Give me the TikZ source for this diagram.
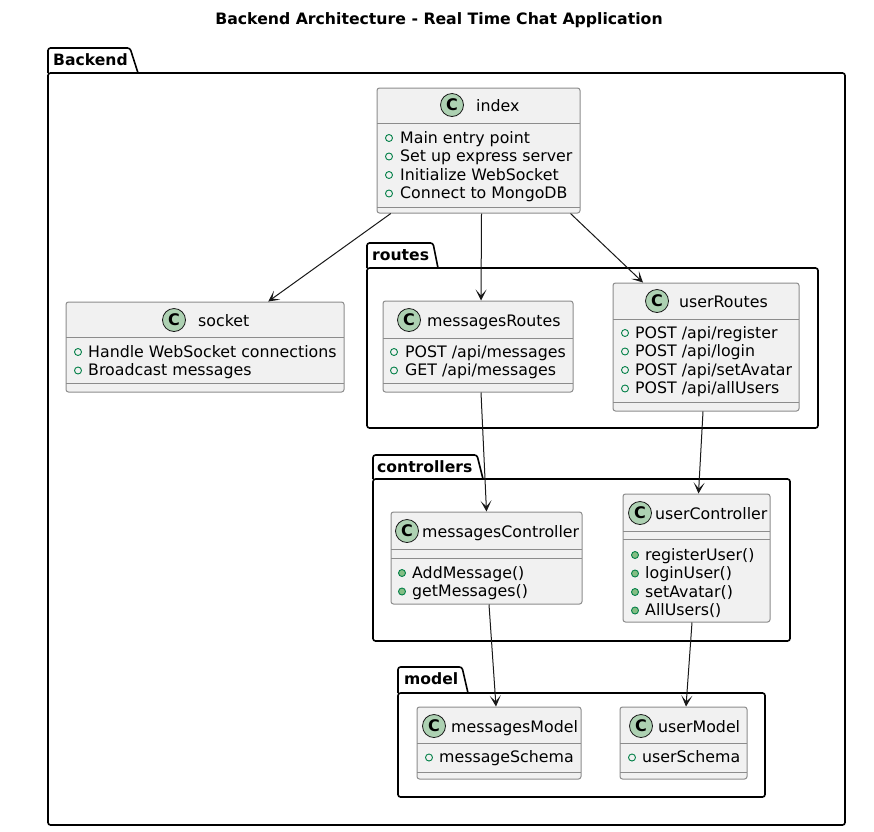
\documentclass[tikz,border=0pt]{standalone}
\usepackage{fontspec}
\setmainfont{DejaVu Sans}
\usetikzlibrary{arrows.meta,fit}

\definecolor{fondoClase}{HTML}{F1F1F1}
\definecolor{bordeClase}{HTML}{8C8C8C}
\definecolor{verdeC}{HTML}{ADD1B2}
\definecolor{verdeVis}{HTML}{038048}
\definecolor{verdeMet}{HTML}{84BE84}
\definecolor{flecha}{HTML}{181818}

\tikzset{
  clase/.style={draw=bordeClase, fill=fondoClase, line width=1pt, rounded corners=2.5pt, inner sep=0pt},
  separador/.style={draw=bordeClase, line width=1pt},
  paquete/.style={draw=black, line width=1.6pt, rounded corners=2.5pt},
  circuloC/.style={circle, draw=flecha, fill=verdeC, line width=0.8pt, minimum size=23pt, inner sep=0pt, font=\fontsize{16}{16}\selectfont\bfseries},
  nombre/.style={anchor=base west, inner sep=0pt, font=\fontsize{15.8}{18}\selectfont},
  texto/.style={anchor=base west, inner sep=0pt, font=\fontsize{15.8}{18}\selectfont},
  atributo/.style={circle, draw=verdeVis, line width=0.9pt, minimum size=7pt, inner sep=0pt},
  metodo/.style={atributo, fill=verdeMet},
  etiqueta/.style={anchor=base west, inner sep=0pt, font=\fontsize{15.6}{18}\selectfont\bfseries},
  titulo/.style={inner sep=0pt, font=\fontsize{15.7}{18}\selectfont\bfseries},
  dep/.style={draw=flecha, line width=1pt, -{Stealth[length=11pt, width=11pt, inset=6pt]}},
}

\begin{document}
\begin{tikzpicture}[x=1pt, y=-1pt]
	\useasboundingbox (0,0) rectangle (874,831);
	\fill[white] (0,0) rectangle (874,831);
	
	% Titulo
	\node[titulo] (titulo) at (439,20) {Backend Architecture - Real Time Chat Application};
	
	% Paquete Backend
	\draw[paquete] (48,73) -- (48,48) -- (130,48) -- (138,73);
	\draw[paquete] (48,73) rectangle (845,825);
	\node[etiqueta] (lblBackend) at (53,65) {Backend};
	
	% Paquetes routes, controllers y model
	\draw[paquete] (367,268) -- (367,243) -- (433,243) -- (438,268);
	\draw[paquete] (367,268) rectangle (818,428);
	\node[etiqueta] (lblRoutes) at (372,260) {routes};
	\draw[paquete] (373,479) -- (373,455) -- (477,455) -- (483,479);
	\draw[paquete] (373,479) rectangle (790,641);
	\node[etiqueta] (lblControllers) at (377,472) {controllers};
	\draw[paquete] (398,693) -- (398,667) -- (462,667) -- (468,693);
	\draw[paquete] (398,693) rectangle (765,797);
	\node[etiqueta] (lblModel) at (404,684) {model};
	
	% Clase index
	\node[clase, fit={(377,88) (580,213)}] (index) {};
	\draw[separador] (377,123) -- (580,123) (377,207) -- (580,207);
	\node[circuloC] (cIndex) at (452,105) {C};
	\node[nombre] (nIndex) at (476,111.5) {index};
	\foreach \linea [count=\i] in {Main entry point, Set up express server, Initialize WebSocket, Connect to MongoDB}{
		\node[atributo] (index-m\i) at (389,119.5+18.5*\i) {};
		\node[texto] (index-a\i) at (400,124.5+18.5*\i) {\linea};
	}
	
	% Clase socket
	\node[clase, fit={(66,302) (344,392)}] (socket) {};
	\draw[separador] (66,337) -- (344,337) (66,383) -- (344,383);
	\node[circuloC] (cSocket) at (174,320) {C};
	\node[nombre] (nSocket) at (198,326.5) {socket};
	\foreach \linea [count=\i] in {Handle WebSocket connections, Broadcast messages}{
		\node[atributo] (socket-m\i) at (78,333.5+18.5*\i) {};
		\node[texto] (socket-a\i) at (88,338.5+18.5*\i) {\linea};
	}
	
	% Clase messagesRoutes
	\node[clase, fit={(383,301) (573,392)}] (messagesRoutes) {};
	\draw[separador] (383,338) -- (573,338) (383,383) -- (573,383);
	\node[circuloC] (cMessagesRoutes) at (409,320) {C};
	\node[nombre] (nMessagesRoutes) at (427,326.5) {messagesRoutes};
	\foreach \linea [count=\i] in {POST /api/messages, GET /api/messages}{
		\node[atributo] (messagesRoutes-m\i) at (394,333.5+18.5*\i) {};
		\node[texto] (messagesRoutes-a\i) at (405,338.5+18.5*\i) {\linea};
	}
	
	% Clase userRoutes
	\node[clase, fit={(613,283) (799,411)}] (userRoutes) {};
	\draw[separador] (613,319) -- (799,319) (613,402) -- (799,402);
	\node[circuloC] (cUserRoutes) at (657,301) {C};
	\node[nombre] (nUserRoutes) at (679,307.5) {userRoutes};
	\foreach \linea [count=\i] in {POST /api/register, POST /api/login, POST /api/setAvatar, POST /api/allUsers}{
		\node[atributo] (userRoutes-m\i) at (625,314.5+18.5*\i) {};
		\node[texto] (userRoutes-a\i) at (635,319.5+18.5*\i) {\linea};
	}
	
	% Clase messagesController
	\node[clase, fit={(391,512) (582,604)}] (messagesController) {};
	\draw[separador] (391,549) -- (582,549) (391,558) -- (582,558);
	\node[circuloC] (cMessagesController) at (407,531) {C};
	\node[nombre] (nMessagesController) at (422,537.5) {messagesController};
	\foreach \linea [count=\i] in {AddMessage(), getMessages()}{
		\node[metodo] (messagesController-m\i) at (402,554.5+18.5*\i) {};
		\node[texto] (messagesController-a\i) at (412,559.5+18.5*\i) {\linea};
	}
	
	% Clase userController
	\node[clase, fit={(623,494) (770,622)}] (userController) {};
	\draw[separador] (623,531) -- (770,531) (623,539) -- (770,539);
	\node[circuloC] (cUserController) at (640,513) {C};
	\node[nombre] (nUserController) at (655,519.5) {userController};
	\foreach \linea [count=\i] in {registerUser(), loginUser(), setAvatar(), AllUsers()}{
		\node[metodo] (userController-m\i) at (635,536.5+18.5*\i) {};
		\node[texto] (userController-a\i) at (645,541.5+18.5*\i) {\linea};
	}
	
	% Clases del modelo
	\node[clase, fit={(417,707) (581,779)}] (messagesModel) {};
	\draw[separador] (417,743) -- (581,743) (417,772) -- (581,772);
	\node[circuloC] (cMessagesModel) at (434,726) {C};
	\node[nombre] (nMessagesModel) at (451,732.5) {messagesModel};
	\node[atributo] (messagesModel-m1) at (429,757.5) {};
	\node[texto] (messagesModel-a1) at (439,762.5) {messageSchema};
	
	\node[clase, fit={(620,707) (747,779)}] (userModel) {};
	\draw[separador] (620,743) -- (747,743) (620,772) -- (747,772);
	\node[circuloC] (cUserModel) at (641,726) {C};
	\node[nombre] (nUserModel) at (658,732.5) {userModel};
	\node[atributo] (userModel-m1) at (632,757.5) {};
	\node[texto] (userModel-a1) at (642,762.5) {userSchema};
	
	% Dependencias
	\draw[dep] (index) -- (socket);
	\draw[dep] ([xshift=3pt]index.south) -- ([xshift=3pt]messagesRoutes.north);
	\draw[dep] ([xshift=92pt]index.south) -- ([xshift=-63pt]userRoutes.north);
	\draw[dep] ([xshift=3pt]messagesRoutes.south) -- (messagesController.north);
	\draw[dep] ([xshift=-3pt]userRoutes.south) -- ([xshift=2pt]userController.north);
	\draw[dep] ([xshift=2.5pt]messagesController.south) -- ([xshift=-3pt]messagesModel.north);
	\draw[dep] ([xshift=-4.5pt]userController.south) -- ([xshift=2.5pt]userModel.north);
	
\end{tikzpicture}
\end{document}
